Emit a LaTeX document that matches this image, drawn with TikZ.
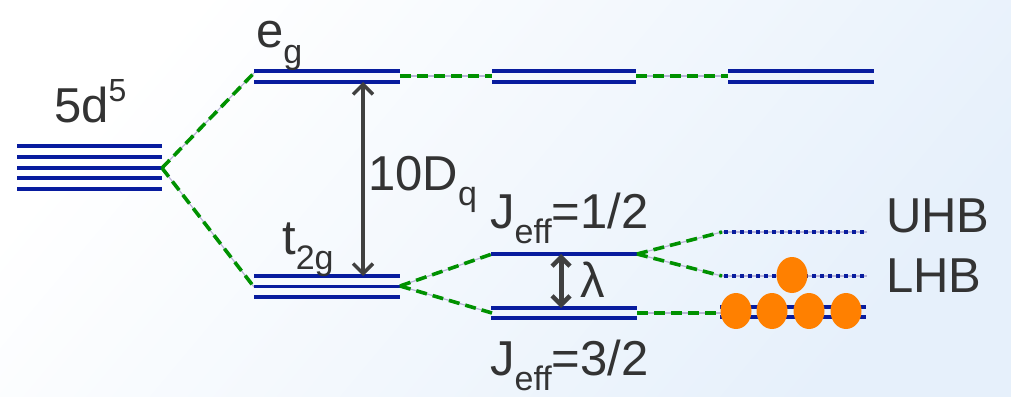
\documentclass[tikz,border=0pt]{standalone}
\usepackage{fontspec}
\setmainfont{Liberation Sans}
\usetikzlibrary{arrows.meta,shapes.geometric}
\definecolor{lvl}{RGB}{8,28,158}
\definecolor{grn}{RGB}{0,145,0}
\definecolor{halo}{RGB}{185,180,215}
\definecolor{txt}{RGB}{51,51,51}
\definecolor{arr}{RGB}{64,64,64}
\definecolor{orng}{RGB}{255,128,0}
\definecolor{bgb}{RGB}{230,240,251}
\newcommand{\lsub}[1]{\raisebox{-0.32em}{\fontsize{34}{34}\selectfont #1}}
\newcommand{\lsup}[1]{\raisebox{0.42em}{\fontsize{32}{32}\selectfont #1}}
\begin{document}
\begin{tikzpicture}[x=1pt,y=-1pt,
  level/.style={draw=lvl,line width=3.2pt},
  dotlevel/.style={draw=lvl,line width=3.6pt,dash pattern=on 4pt off 4pt},
  halo/.style={draw=halo,line width=1.2pt},
  conn/.style={draw=grn,line width=3.6pt,dash pattern=on 11pt off 6pt},
  gap/.style={draw=arr,line width=3.5pt,{Straight Barb[length=10pt,width=20pt,line width=3.5pt]}-{Straight Barb[length=10pt,width=20pt,line width=3.5pt]}},
  gapthick/.style={draw=arr,line width=5pt,{Straight Barb[length=9pt,width=18pt,line width=4.5pt]}-{Straight Barb[length=9pt,width=18pt,line width=4.5pt]}},
  lbl/.style={text=txt,font=\fontsize{49}{56}\selectfont,inner sep=0pt,anchor=base west},
  elec/.style={fill=orng,draw=none,ellipse,minimum width=31pt,minimum height=36pt,inner sep=0pt}
]
\useasboundingbox (0,0) rectangle (1011,396);
\shade[top color=white,middle color=white,bottom color=bgb,shading angle=50] (0,0) rectangle (1011,396);

% ---- coordinates
\coordinate (d5) at (162,168);
\coordinate (egL) at (254,73);
\coordinate (egR) at (400,76);
\coordinate (eg2L) at (492,76);
\coordinate (eg2R) at (636,76);
\coordinate (eg3L) at (728,76);
\coordinate (tL) at (254,287);
\coordinate (tR) at (400,286);
\coordinate (jaL) at (492,254);
\coordinate (jaR) at (637,254);
\coordinate (jbL) at (492,313);
\coordinate (jbR) at (637,313);
\coordinate (uhb) at (722,232);
\coordinate (lhb) at (722,276);
\coordinate (bot) at (722,313);
\coordinate (egB) at (363,82);
\coordinate (tT) at (363,276);
\coordinate (lamT) at (561,254);
\coordinate (lamB) at (561,308);

% ---- halos under connectors
\foreach \a/\b in {d5/egL,d5/tL,egR/eg2L,eg2R/eg3L,tR/jaL,tR/jbL,jaR/uhb,jaR/lhb,jbR/bot}
  \draw[halo] (\a) -- (\b);
\draw[halo] (722,232) -- (867,232);
\draw[halo] (722,276) -- (867,276);

% ---- levels
\foreach \y in {146,157,168,178,189} \draw[level] (17,\y) -- (162,\y);
\foreach \xa/\xb in {254/400,492/636,728/874} {
  \draw[level] (\xa,71) -- (\xb,71);
  \draw[level] (\xa,82) -- (\xb,82);
}
\foreach \y in {276,286.5,297} \draw[level] (254,\y) -- (400,\y);
\draw[level] (491,254) -- (637,254);
\draw[level] (491,308) -- (637,308);
\draw[level] (491,318) -- (637,318);
\draw[dotlevel] (724,232) -- (867,232);
\draw[dotlevel] (724,276) -- (867,276);
\draw[level] (720,307) -- (866,307);
\draw[level] (720,317) -- (866,317);

% ---- connectors
\foreach \a/\b in {d5/egL,d5/tL,egR/eg2L,eg2R/eg3L,tR/jaL,tR/jbL,jaR/uhb,jaR/lhb,jbR/bot}
  \draw[conn] (\a) -- (\b);

% ---- gaps
\draw[gap] (egB) -- (tT);
\draw[gapthick] (lamT) -- (lamB);

% ---- electrons
\node[elec] (e1) at (736,311) {};
\node[elec] (e2) at (772,311) {};
\node[elec] (e3) at (809,311) {};
\node[elec] (e4) at (846,311) {};
\node[elec] (e5) at (792,275) {};

% ---- labels
\node[lbl] (l5d) at (54,122) {5d\lsup{5}};
\node[lbl] (leg) at (256,48) {e\lsub{g}};
\node[lbl] (l10) at (368,190) {10D\lsub{q}};
\node[lbl] (lt) at (282,254) {t\lsub{2g}};
\node[lbl] (lja) at (490,228) {J\lsub{eff}=1/2};
\node[lbl] (llam) at (580,297) {λ};
\node[lbl] (ljb) at (490,375) {J\lsub{eff}=3/2};
\node[lbl] (lu) at (886,232) {UHB};
\node[lbl] (ll) at (886,292) {LHB};
\end{tikzpicture}
\end{document}
